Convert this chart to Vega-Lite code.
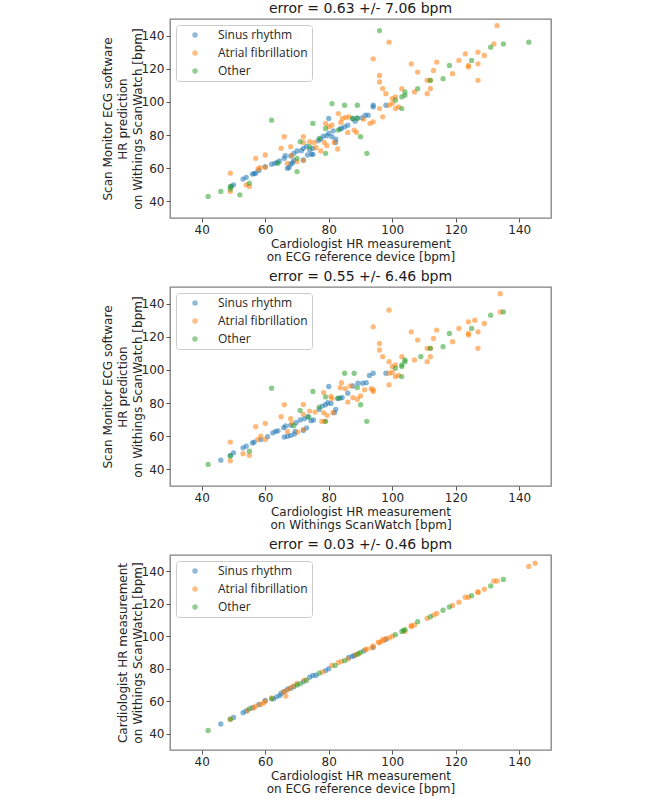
{
  "$schema": "https://vega.github.io/schema/vega-lite/v6.json",
  "padding": {"left": 100, "top": 1, "right": 5, "bottom": 5},
  "spacing": 6,
  "config": {
    "font": "DejaVu Sans",
    "view": {"stroke": "#808080", "strokeWidth": 1.3},
    "axis": {"domain": false, "grid": false, "labelFont": "DejaVu Sans", "labelFontSize": 12, "labelColor": "#262626", "tickColor": "#555555", "tickSize": 4, "labelPadding": 2, "titleFont": "DejaVu Sans", "titleFontSize": 12, "titleFontWeight": "normal", "titleColor": "#262626", "titlePadding": 3},
    "axisX": {"titleLineHeight": 13},
    "axisY": {"titleLineHeight": 15, "titlePadding": -3},
    "title": {"fontSize": 14, "fontWeight": "normal", "font": "DejaVu Sans", "color": "#1a1a1a", "offset": 3, "frame": "group", "anchor": "middle"},
    "legend": {"orient": "top-left", "offset": 6, "padding": 4, "symbolOffset": 9, "strokeColor": "#cccccc", "cornerRadius": 3, "fillColor": "white", "labelFont": "Open Sans", "labelFontSize": 12, "labelColor": "#262626", "symbolType": "circle", "symbolSize": 30, "symbolOpacity": 0.5, "symbolStrokeWidth": 0, "rowPadding": 6, "labelOffset": 17}
  },
  "resolve": {"scale": {"color": "independent"}, "legend": {"color": "independent"}},
  "datasets": {
    "p1": [
      {"c":"S","x":49.3,"y":49},{"c":"S","x":50,"y":50},{"c":"S","x":53,"y":53.5},{"c":"S","x":54,"y":54.5},{"c":"S","x":56,"y":56.5},{"c":"S","x":56.5,"y":56.8},{"c":"S","x":57,"y":57},{"c":"S","x":58,"y":58.7},{"c":"S","x":60,"y":61},{"c":"S","x":62,"y":62.4},{"c":"S","x":63,"y":63},{"c":"S","x":63.7,"y":63.6},{"c":"S","x":64.5,"y":64.4},{"c":"S","x":66,"y":66},{"c":"S","x":66.3,"y":67.6},{"c":"S","x":67,"y":60},{"c":"S","x":67.5,"y":60.4},{"c":"S","x":68,"y":62.4},{"c":"S","x":68.6,"y":63.2},{"c":"S","x":69,"y":64.7},{"c":"S","x":68,"y":67.5},{"c":"S","x":69,"y":69},{"c":"S","x":70,"y":70.4},{"c":"S","x":71.4,"y":70.6},{"c":"S","x":72,"y":72},{"c":"S","x":73,"y":73.2},{"c":"S","x":72,"y":65},{"c":"S","x":73.3,"y":68},{"c":"S","x":74.6,"y":68.4},{"c":"S","x":75,"y":68.4},{"c":"S","x":74,"y":71},{"c":"S","x":75,"y":72},{"c":"S","x":76.7,"y":76.6},{"c":"S","x":77.5,"y":77.6},{"c":"S","x":78.3,"y":79.4},{"c":"S","x":79.4,"y":79.6},{"c":"S","x":80,"y":81},{"c":"S","x":80,"y":90},{"c":"S","x":81.4,"y":82.6},{"c":"S","x":82.2,"y":77.6},{"c":"S","x":82.2,"y":75.6},{"c":"S","x":81,"y":79},{"c":"S","x":83.5,"y":83.6},{"c":"S","x":84,"y":84},{"c":"S","x":85,"y":85},{"c":"S","x":86,"y":86},{"c":"S","x":87.6,"y":90},{"c":"S","x":89,"y":90.4},{"c":"S","x":90.5,"y":90.4},{"c":"S","x":88.3,"y":88.4},{"c":"S","x":91.5,"y":92},{"c":"S","x":92.4,"y":92},{"c":"S","x":94,"y":98},{"c":"S","x":94,"y":97},{"c":"S","x":98,"y":98},
      {"c":"A","x":49,"y":57},{"c":"A","x":49,"y":46},{"c":"A","x":54,"y":50},{"c":"A","x":55,"y":49},{"c":"A","x":57,"y":66},{"c":"A","x":57.7,"y":59.6},{"c":"A","x":58.4,"y":60.4},{"c":"A","x":60,"y":68},{"c":"A","x":60,"y":60.5},{"c":"A","x":65,"y":72},{"c":"A","x":66,"y":79},{"c":"A","x":68,"y":73},{"c":"A","x":68.3,"y":67.6},{"c":"A","x":67,"y":63},{"c":"A","x":70,"y":64},{"c":"A","x":72,"y":79},{"c":"A","x":72,"y":75.6},{"c":"A","x":72,"y":64.6},{"c":"A","x":74,"y":76},{"c":"A","x":75.4,"y":75.6},{"c":"A","x":76,"y":72.4},{"c":"A","x":77.5,"y":70.4},{"c":"A","x":78.6,"y":75.6},{"c":"A","x":79.4,"y":73.6},{"c":"A","x":79,"y":87},{"c":"A","x":80,"y":85},{"c":"A","x":81,"y":86},{"c":"A","x":81.7,"y":75.6},{"c":"A","x":82.8,"y":71.6},{"c":"A","x":83,"y":93},{"c":"A","x":83.8,"y":87.6},{"c":"A","x":84.3,"y":90},{"c":"A","x":85.4,"y":90.6},{"c":"A","x":86.4,"y":91},{"c":"A","x":86,"y":81.6},{"c":"A","x":88,"y":83},{"c":"A","x":88.7,"y":81.6},{"c":"A","x":91,"y":89.6},{"c":"A","x":93,"y":87},{"c":"A","x":94,"y":88},{"c":"A","x":94,"y":126},{"c":"A","x":96,"y":96},{"c":"A","x":97,"y":91},{"c":"A","x":99,"y":136},{"c":"A","x":133,"y":146},{"c":"A","x":132,"y":135},{"c":"A","x":106,"y":123},{"c":"A","x":114,"y":124},{"c":"A","x":127,"y":130},{"c":"A","x":123,"y":129},{"c":"A","x":121,"y":125},{"c":"A","x":129,"y":128},{"c":"A","x":127,"y":123},{"c":"A","x":124,"y":122},{"c":"A","x":124,"y":121},{"c":"A","x":108,"y":118},{"c":"A","x":113,"y":119},{"c":"A","x":119,"y":117},{"c":"A","x":127,"y":113},{"c":"A","x":111,"y":113},{"c":"A","x":112,"y":113},{"c":"A","x":112,"y":108},{"c":"A","x":111,"y":105},{"c":"A","x":107,"y":106},{"c":"A","x":103,"y":108},{"c":"A","x":97,"y":108},{"c":"A","x":96,"y":112},{"c":"A","x":96,"y":116},{"c":"A","x":98,"y":105},{"c":"A","x":100,"y":102},{"c":"A","x":101,"y":103},{"c":"A","x":99,"y":98},{"c":"A","x":100,"y":99},{"c":"A","x":101,"y":96},{"c":"A","x":102,"y":97},
      {"c":"O","x":42,"y":43},{"c":"O","x":46,"y":46},{"c":"O","x":49,"y":49},{"c":"O","x":49,"y":47.5},{"c":"O","x":52,"y":44},{"c":"O","x":55,"y":51},{"c":"O","x":62,"y":89},{"c":"O","x":64,"y":63},{"c":"O","x":70,"y":58},{"c":"O","x":70,"y":66},{"c":"O","x":71,"y":76},{"c":"O","x":74,"y":73},{"c":"O","x":75,"y":87},{"c":"O","x":77,"y":78},{"c":"O","x":79,"y":84},{"c":"O","x":79,"y":69},{"c":"O","x":81,"y":99},{"c":"O","x":85,"y":98},{"c":"O","x":89,"y":98},{"c":"O","x":90,"y":79},{"c":"O","x":92,"y":69},{"c":"O","x":83,"y":83},{"c":"O","x":87.5,"y":90},{"c":"O","x":89,"y":90},{"c":"O","x":96,"y":143},{"c":"O","x":101,"y":101},{"c":"O","x":103,"y":103},{"c":"O","x":104,"y":104},{"c":"O","x":104,"y":106},{"c":"O","x":103,"y":96},{"c":"O","x":108,"y":108},{"c":"O","x":112,"y":113},{"c":"O","x":116,"y":114},{"c":"O","x":118,"y":122},{"c":"O","x":125,"y":125},{"c":"O","x":131,"y":133},{"c":"O","x":135,"y":135},{"c":"O","x":143,"y":136}
    ],
    "p2": [
      {"c":"S","x":46,"y":45.6},{"c":"S","x":49,"y":48.5},{"c":"S","x":50,"y":50},{"c":"S","x":53,"y":53},{"c":"S","x":54,"y":54},{"c":"S","x":56,"y":56},{"c":"S","x":56.5,"y":56.5},{"c":"S","x":58.6,"y":58},{"c":"S","x":60.7,"y":59.7},{"c":"S","x":62.4,"y":62},{"c":"S","x":63.3,"y":63},{"c":"S","x":64,"y":63.3},{"c":"S","x":65.8,"y":65.2},{"c":"S","x":66.4,"y":66.2},{"c":"S","x":66,"y":59.5},{"c":"S","x":67,"y":60},{"c":"S","x":68,"y":60.5},{"c":"S","x":69.2,"y":61.3},{"c":"S","x":69.4,"y":63},{"c":"S","x":68,"y":66.6},{"c":"S","x":69.7,"y":68.2},{"c":"S","x":71,"y":69.8},{"c":"S","x":72.3,"y":70.6},{"c":"S","x":73.4,"y":71.8},{"c":"S","x":72,"y":63.5},{"c":"S","x":73,"y":65},{"c":"S","x":74.4,"y":69.4},{"c":"S","x":75.2,"y":69.8},{"c":"S","x":77,"y":76.2},{"c":"S","x":78,"y":78.2},{"c":"S","x":79,"y":79},{"c":"S","x":79.7,"y":80.2},{"c":"S","x":80.7,"y":79.8},{"c":"S","x":80,"y":90},{"c":"S","x":81.8,"y":74.2},{"c":"S","x":82.2,"y":76.2},{"c":"S","x":82.8,"y":82.7},{"c":"S","x":83.6,"y":83},{"c":"S","x":84.2,"y":83.3},{"c":"S","x":86,"y":86},{"c":"S","x":87.6,"y":90.3},{"c":"S","x":89.2,"y":92},{"c":"S","x":90.7,"y":92},{"c":"S","x":91.8,"y":92.3},{"c":"S","x":92.8,"y":96.7},{"c":"S","x":94,"y":98},{"c":"S","x":98,"y":98},
      {"c":"A","x":49,"y":56.5},{"c":"A","x":49,"y":45.2},{"c":"A","x":53,"y":49.5},{"c":"A","x":55,"y":48.5},{"c":"A","x":57,"y":65.8},{"c":"A","x":57.6,"y":58},{"c":"A","x":58.6,"y":60},{"c":"A","x":60,"y":67.8},{"c":"A","x":60,"y":58},{"c":"A","x":65,"y":71.8},{"c":"A","x":66,"y":79},{"c":"A","x":68,"y":70.6},{"c":"A","x":68.4,"y":67.8},{"c":"A","x":67,"y":62.9},{"c":"A","x":70.2,"y":62.5},{"c":"A","x":72,"y":79.2},{"c":"A","x":72,"y":73.2},{"c":"A","x":72,"y":64},{"c":"A","x":74,"y":75.2},{"c":"A","x":75.7,"y":74.6},{"c":"A","x":77.8,"y":69},{"c":"A","x":78.8,"y":69},{"c":"A","x":78.4,"y":74.2},{"c":"A","x":79.5,"y":72.6},{"c":"A","x":78.4,"y":86.3},{"c":"A","x":80.7,"y":84},{"c":"A","x":81,"y":82.7},{"c":"A","x":81.3,"y":74.2},{"c":"A","x":84,"y":92.3},{"c":"A","x":83.6,"y":89.3},{"c":"A","x":85.2,"y":88.7},{"c":"A","x":86.8,"y":90.3},{"c":"A","x":86,"y":80.6},{"c":"A","x":87.6,"y":83.3},{"c":"A","x":89,"y":82.3},{"c":"A","x":90,"y":84.3},{"c":"A","x":91.3,"y":88},{"c":"A","x":93.4,"y":88.7},{"c":"A","x":94,"y":88},{"c":"A","x":94,"y":87},{"c":"A","x":94,"y":126},{"c":"A","x":99,"y":91},{"c":"A","x":134,"y":146},{"c":"A","x":134,"y":135},{"c":"A","x":99,"y":136},{"c":"A","x":106,"y":123},{"c":"A","x":114,"y":124},{"c":"A","x":124,"y":129},{"c":"A","x":126,"y":130},{"c":"A","x":129,"y":128},{"c":"A","x":121,"y":125},{"c":"A","x":127,"y":123},{"c":"A","x":124,"y":122},{"c":"A","x":124,"y":121},{"c":"A","x":108,"y":118},{"c":"A","x":113,"y":119},{"c":"A","x":119,"y":117},{"c":"A","x":127,"y":113},{"c":"A","x":111,"y":113},{"c":"A","x":112,"y":113},{"c":"A","x":112,"y":108},{"c":"A","x":111,"y":105},{"c":"A","x":107,"y":106},{"c":"A","x":103,"y":108},{"c":"A","x":97,"y":108},{"c":"A","x":96,"y":112},{"c":"A","x":96,"y":116},{"c":"A","x":99,"y":105},{"c":"A","x":100,"y":102},{"c":"A","x":101,"y":103},{"c":"A","x":99,"y":98},{"c":"A","x":100,"y":98.5},{"c":"A","x":101,"y":96},{"c":"A","x":102,"y":96.7},
      {"c":"O","x":42,"y":43},{"c":"O","x":49,"y":48},{"c":"O","x":55,"y":51},{"c":"O","x":62,"y":89},{"c":"O","x":75,"y":87},{"c":"O","x":71,"y":75.6},{"c":"O","x":73.7,"y":71.6},{"c":"O","x":69,"y":66.4},{"c":"O","x":77,"y":77.6},{"c":"O","x":79,"y":83.7},{"c":"O","x":79,"y":69},{"c":"O","x":85,"y":98},{"c":"O","x":88,"y":98},{"c":"O","x":89,"y":89.3},{"c":"O","x":90,"y":79},{"c":"O","x":92,"y":69},{"c":"O","x":83,"y":83},{"c":"O","x":101,"y":101},{"c":"O","x":103,"y":103},{"c":"O","x":103,"y":102},{"c":"O","x":104,"y":105},{"c":"O","x":104,"y":106},{"c":"O","x":103,"y":96},{"c":"O","x":109,"y":108},{"c":"O","x":112,"y":113},{"c":"O","x":116,"y":114},{"c":"O","x":118,"y":122},{"c":"O","x":125,"y":125},{"c":"O","x":131,"y":133},{"c":"O","x":135,"y":135}
    ],
    "p3": [
      {"c":"S","x":46,"y":46},{"c":"S","x":50,"y":50},{"c":"S","x":53,"y":53},{"c":"S","x":54,"y":54},{"c":"S","x":56,"y":56},{"c":"S","x":58,"y":58},{"c":"S","x":60,"y":60.5},{"c":"S","x":62.6,"y":61.5},{"c":"S","x":63.6,"y":62.7},{"c":"S","x":64.6,"y":63.5},{"c":"S","x":65,"y":65},{"c":"S","x":66,"y":66},{"c":"S","x":67,"y":67.5},{"c":"S","x":68,"y":68},{"c":"S","x":69,"y":69},{"c":"S","x":72,"y":72},{"c":"S","x":74,"y":74.8},{"c":"S","x":75,"y":75.9},{"c":"S","x":76,"y":76},{"c":"S","x":79,"y":78.9},{"c":"S","x":80,"y":80},{"c":"S","x":86.3,"y":87},{"c":"S","x":87.4,"y":87.7},{"c":"S","x":88,"y":88},{"c":"S","x":91,"y":91},{"c":"S","x":94,"y":93.2},{"c":"S","x":98,"y":98},
      {"c":"A","x":49,"y":49},{"c":"A","x":54.5,"y":54.3},{"c":"A","x":56.4,"y":56},{"c":"A","x":57,"y":57},{"c":"A","x":58.5,"y":58},{"c":"A","x":59.5,"y":59},{"c":"A","x":60,"y":60},{"c":"A","x":62,"y":62},{"c":"A","x":65.7,"y":65.6},{"c":"A","x":66.7,"y":66.6},{"c":"A","x":67.7,"y":68},{"c":"A","x":68.8,"y":69.3},{"c":"A","x":66.5,"y":63.2},{"c":"A","x":70,"y":71},{"c":"A","x":72.4,"y":73.2},{"c":"A","x":78,"y":78},{"c":"A","x":81,"y":82},{"c":"A","x":83,"y":83.8},{"c":"A","x":84,"y":84.6},{"c":"A","x":86,"y":86},{"c":"A","x":88.4,"y":88.5},{"c":"A","x":89.4,"y":89.3},{"c":"A","x":91.5,"y":91.8},{"c":"A","x":92,"y":92},{"c":"A","x":93.6,"y":93},{"c":"A","x":94,"y":94},{"c":"A","x":95.6,"y":96.4},{"c":"A","x":96,"y":96},{"c":"A","x":97,"y":97},{"c":"A","x":97,"y":98},{"c":"A","x":98,"y":98.6},{"c":"A","x":99,"y":99},{"c":"A","x":100,"y":100},{"c":"A","x":104,"y":103},{"c":"A","x":106,"y":106},{"c":"A","x":106,"y":106.5},{"c":"A","x":107,"y":107},{"c":"A","x":111,"y":111},{"c":"A","x":113,"y":113},{"c":"A","x":114,"y":114},{"c":"A","x":119,"y":119},{"c":"A","x":121,"y":121},{"c":"A","x":123,"y":124},{"c":"A","x":124,"y":124},{"c":"A","x":127,"y":127},{"c":"A","x":127,"y":127.3},{"c":"A","x":129,"y":129},{"c":"A","x":132,"y":134},{"c":"A","x":133,"y":134},{"c":"A","x":143,"y":143},{"c":"A","x":145,"y":145},
      {"c":"O","x":42,"y":42},{"c":"O","x":49,"y":49},{"c":"O","x":55,"y":55.4},{"c":"O","x":62,"y":61.5},{"c":"O","x":70,"y":70},{"c":"O","x":71,"y":70.7},{"c":"O","x":73,"y":72.8},{"c":"O","x":77,"y":77.3},{"c":"O","x":82,"y":82},{"c":"O","x":85,"y":85},{"c":"O","x":89,"y":89},{"c":"O","x":90,"y":90},{"c":"O","x":101,"y":101},{"c":"O","x":103,"y":103},{"c":"O","x":103.5,"y":103.5},{"c":"O","x":104,"y":104},{"c":"O","x":108,"y":109},{"c":"O","x":112,"y":112},{"c":"O","x":116,"y":116},{"c":"O","x":118,"y":118},{"c":"O","x":125,"y":125},{"c":"O","x":131,"y":131},{"c":"O","x":135,"y":135}
    ]
  },
  "vconcat": [
    {
      "title": "error = 0.63 +/- 7.06 bpm",
      "width": 381, "height": 199,
      "data": {"name": "p1"},
      "mark": {"type": "point", "filled": true, "size": 28, "opacity": 0.55},
      "encoding": {
        "x": {"field": "x", "type": "quantitative", "scale": {"domain": [30, 150], "nice": false, "zero": false}, "axis": {"values": [40, 60, 80, 100, 120, 140], "title": ["Cardiologist HR measurement", "on ECG reference device [bpm]"]}},
        "y": {"field": "y", "type": "quantitative", "scale": {"domain": [30, 150], "nice": false, "zero": false}, "axis": {"values": [40, 60, 80, 100, 120, 140], "title": ["Scan Monitor ECG software", "HR prediction", "on Withings ScanWatch [bpm]"]}},
        "color": {"field": "c", "type": "nominal", "scale": {"domain": ["S", "A", "O"], "range": ["#1f77b4", "#ff7f0e", "#2ca02c"]}, "legend": {"title": null, "labelExpr": "datum.label == 'S' ? 'Sinus rhythm' : datum.label == 'A' ? 'Atrial fibrillation' : 'Other'"}}
      }
    },
    {
      "title": "error = 0.55 +/- 6.46 bpm",
      "width": 381, "height": 199,
      "data": {"name": "p2"},
      "mark": {"type": "point", "filled": true, "size": 28, "opacity": 0.55},
      "encoding": {
        "x": {"field": "x", "type": "quantitative", "scale": {"domain": [30, 150], "nice": false, "zero": false}, "axis": {"values": [40, 60, 80, 100, 120, 140], "title": ["Cardiologist HR measurement", "on Withings ScanWatch [bpm]"]}},
        "y": {"field": "y", "type": "quantitative", "scale": {"domain": [30, 150], "nice": false, "zero": false}, "axis": {"values": [40, 60, 80, 100, 120, 140], "title": ["Scan Monitor ECG software", "HR prediction", "on Withings ScanWatch [bpm]"]}},
        "color": {"field": "c", "type": "nominal", "scale": {"domain": ["S", "A", "O"], "range": ["#1f77b4", "#ff7f0e", "#2ca02c"]}, "legend": {"title": null, "labelExpr": "datum.label == 'S' ? 'Sinus rhythm' : datum.label == 'A' ? 'Atrial fibrillation' : 'Other'"}}
      }
    },
    {
      "title": "error = 0.03 +/- 0.46 bpm",
      "width": 381, "height": 195,
      "data": {"name": "p3"},
      "mark": {"type": "point", "filled": true, "size": 28, "opacity": 0.55},
      "encoding": {
        "x": {"field": "x", "type": "quantitative", "scale": {"domain": [30, 150], "nice": false, "zero": false}, "axis": {"values": [40, 60, 80, 100, 120, 140], "title": ["Cardiologist HR measurement", "on ECG reference device [bpm]"]}},
        "y": {"field": "y", "type": "quantitative", "scale": {"domain": [30, 150], "nice": false, "zero": false}, "axis": {"values": [40, 60, 80, 100, 120, 140], "title": ["Cardiologist HR measurement", "on Withings ScanWatch [bpm]"]}},
        "color": {"field": "c", "type": "nominal", "scale": {"domain": ["S", "A", "O"], "range": ["#1f77b4", "#ff7f0e", "#2ca02c"]}, "legend": {"title": null, "labelExpr": "datum.label == 'S' ? 'Sinus rhythm' : datum.label == 'A' ? 'Atrial fibrillation' : 'Other'"}}
      }
    }
  ]
}
